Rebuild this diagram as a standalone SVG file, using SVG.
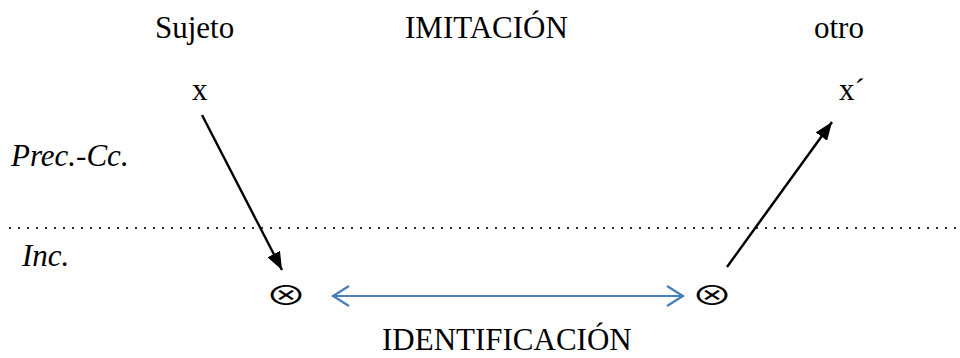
<svg xmlns="http://www.w3.org/2000/svg" width="960" height="358" viewBox="0 0 960 358">
<style>
.t{font-family:"Liberation Serif","DejaVu Serif",serif;font-size:31px;fill:#000}
.i{font-style:italic}
.sym{font-family:"Noto Sans CJK JP","DejaVu Sans",sans-serif;font-size:26px;fill:#000}
.blk{stroke:#000;stroke-width:2.4;fill:none}
.blu{stroke:#4A7EBB;stroke-width:2.2;fill:none}
</style>
<defs>
<marker id="ah" markerUnits="userSpaceOnUse" markerWidth="18" markerHeight="14" refX="18" refY="7" orient="auto" viewBox="0 0 18 14">
<path d="M0,0 L18,7 L0,14 z" fill="#000"/>
</marker>
<marker id="bh" markerUnits="userSpaceOnUse" markerWidth="20" markerHeight="24" refX="17" refY="12" orient="auto-start-reverse" viewBox="0 0 20 24">
<path d="M1,2 L17,12 L1,22" fill="none" stroke="#4A7EBB" stroke-width="2.2"/>
</marker>
</defs>
<rect width="960" height="358" fill="#fff"/>
<g id="divider">
<line x1="10" y1="228" x2="958" y2="228" stroke="#000" stroke-width="2.2" stroke-linecap="round" stroke-dasharray="0 9"/>
</g>
<g id="sujeto"><text class="t" x="155" y="38">Sujeto</text></g>
<g id="imitacion"><text class="t" x="405" y="38">IMITACIÓN</text></g>
<g id="otro"><text class="t" x="814" y="38">otro</text></g>
<g id="x"><text class="t" x="192" y="100">x</text></g>
<g id="x-prime"><text class="t" x="839" y="100">x´</text></g>
<g id="prec-cc"><text class="t i" x="11" y="166">Prec.-Cc.</text></g>
<g id="inc"><text class="t i" x="22" y="266">Inc.</text></g>
<g id="otimes-left"><text class="sym" transform="translate(286,304.5) scale(1.6,1)" text-anchor="middle">⊗</text></g>
<g id="otimes-right"><text class="sym" transform="translate(712,304.5) scale(1.6,1)" text-anchor="middle">⊗</text></g>
<g id="identificacion"><text class="t" x="382" y="350">IDENTIFICACIÓN</text></g>
<g id="connectors">
<line class="blk" x1="202" y1="115" x2="282" y2="270" marker-end="url(#ah)"/>
<line class="blk" x1="727" y1="267" x2="832" y2="122" marker-end="url(#ah)"/>
<line class="blu" x1="333" y1="296" x2="683" y2="296" marker-start="url(#bh)" marker-end="url(#bh)"/>
</g>
</svg>
